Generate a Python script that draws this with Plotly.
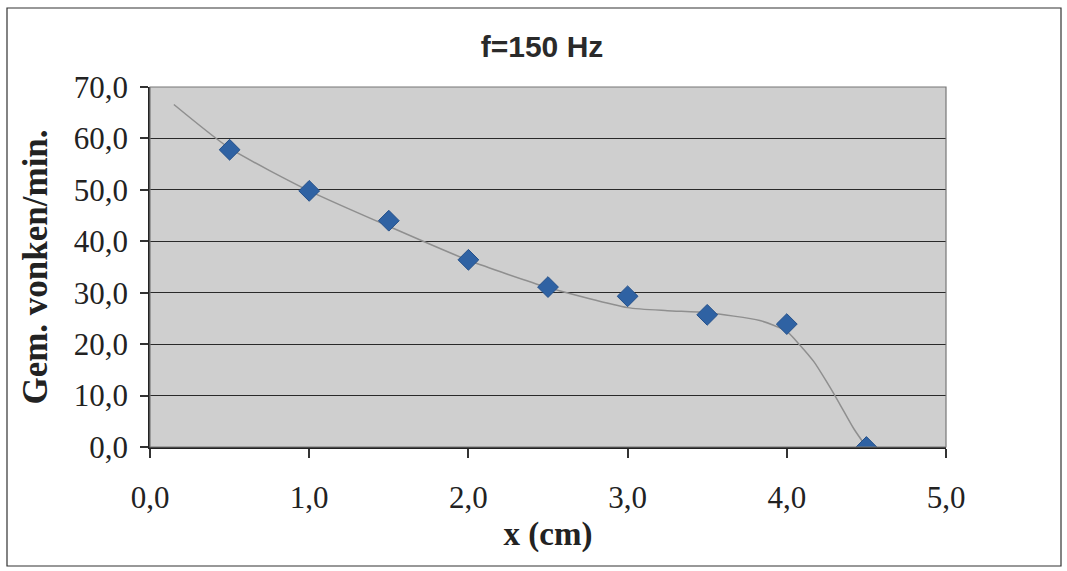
import plotly.graph_objects as go

# measured data points
x_cm = [0.5, 1.0, 1.5, 2.0, 2.5, 3.0, 3.5, 4.0, 4.5]
vonken = [57.8, 49.8, 44.0, 36.4, 31.1, 29.3, 25.7, 23.9, 0.0]

# trendline
trend_x = [0.15, 0.5, 1.0, 1.5, 2.0, 2.5, 3.0, 3.25, 3.5, 3.83, 4.0, 4.08, 4.17, 4.25, 4.33, 4.42, 4.5]
trend_y = [66.6, 58.1, 49.8, 42.9, 36.3, 31.0, 27.1, 26.5, 26.1, 24.6, 22.5, 19.9, 16.6, 12.7, 8.5, 3.6, 0.0]

x_ticks = [0, 1, 2, 3, 4, 5]
x_ticklabels = ["0,0", "1,0", "2,0", "3,0", "4,0", "5,0"]
y_ticks = [0, 10, 20, 30, 40, 50, 60, 70]
y_ticklabels = ["0,0", "10,0", "20,0", "30,0", "40,0", "50,0", "60,0", "70,0"]

fig = go.Figure()
fig.add_trace(go.Scatter(x=trend_x, y=trend_y, mode="lines",
                         line=dict(color="#8f8f8f", width=1.5, shape="spline", smoothing=0.6),
                         hoverinfo="skip", showlegend=False))
fig.add_trace(go.Scatter(x=x_cm, y=vonken, mode="markers",
                         marker=dict(symbol="diamond", size=16, color="#2f62a3",
                                     line=dict(color="#24508a", width=1)),
                         showlegend=False))

serif = "Liberation Serif, Times New Roman, serif"
fig.update_layout(
    width=1067, height=571,
    margin=dict(l=150, r=121, t=87, b=124),
    paper_bgcolor="white",
    plot_bgcolor="#cfcfcf",
    title=dict(text="<b>f=150 Hz</b>", x=0.508, xanchor="center", y=0.918, yanchor="middle",
               font=dict(family="Liberation Sans, Arial, sans-serif",
                         size=30, color="#2a2a2a")),
    xaxis=dict(range=[0, 5], tickvals=x_ticks, ticktext=x_ticklabels,
               showgrid=False, zeroline=False,
               showline=True, linecolor="#222222", linewidth=1.5, mirror=False,
               ticks="outside", ticklen=9, tickcolor="#333333", tickwidth=1.5,
               ticklabelstandoff=13,
               tickfont=dict(family=serif, size=31, color="#222222"),
               title=dict(text="<b>x (cm)</b>", standoff=8,
                          font=dict(family=serif, size=33, color="#222222"))),
    yaxis=dict(range=[0, 70], tickvals=y_ticks, ticktext=y_ticklabels,
               showgrid=True, gridcolor="#2a2a2a", gridwidth=1.2, zeroline=False,
               showline=True, linecolor="#222222", linewidth=1.5,
               ticks="outside", ticklen=8, tickcolor="#333333", tickwidth=1.5,
               ticklabelstandoff=6,
               tickfont=dict(family=serif, size=31, color="#222222"),
               title=dict(text="<b>Gem. vonken/min.</b>", standoff=16,
                          font=dict(family=serif, size=35, color="#222222"))),
)
# plot-area border (top/right)
fig.add_shape(type="rect", xref="paper", yref="paper", x0=0, x1=1, y0=0, y1=1,
              line=dict(color="#777777", width=1.2), layer="above")
# outer chart border
fig.add_shape(type="rect", xref="paper", yref="paper",
              x0=(7 - 150) / 796, x1=(1061 - 150) / 796,
              y0=(447 - 566) / 360, y1=(447 - 8) / 360,
              line=dict(color="#333333", width=1.2))

fig.write_html("out.html")
